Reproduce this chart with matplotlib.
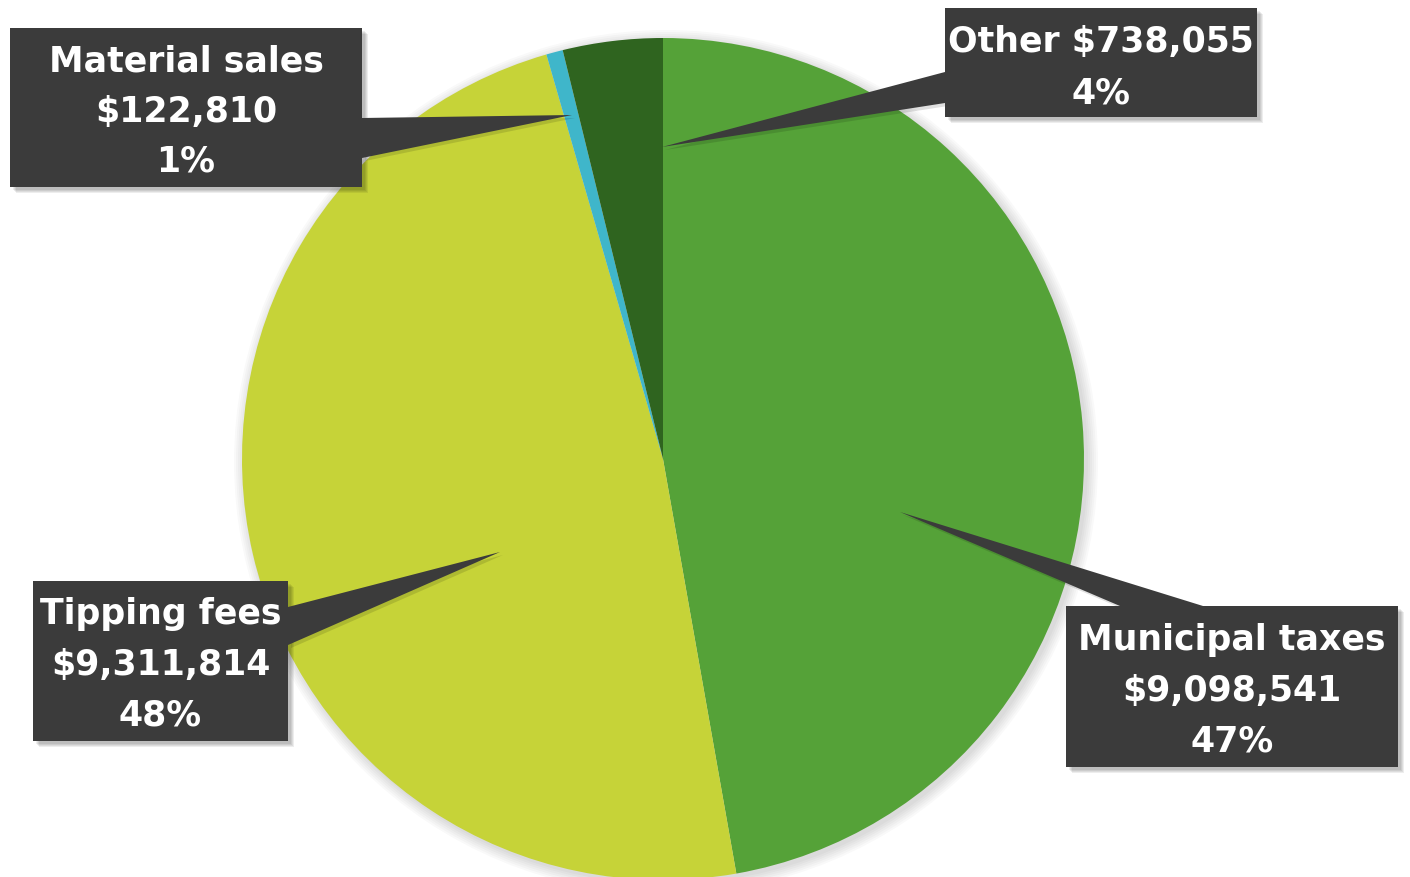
import matplotlib
matplotlib.use('Agg')
import matplotlib.pyplot as plt
from matplotlib.patches import Rectangle, Polygon, Circle

# data
labels = ['Municipal taxes', 'Tipping fees', 'Material sales', 'Other']
values = [9098541, 9311814, 122810, 738055]
percents = ['47%', '48%', '1%', '4%']
colors = ['#55A238', '#C6D338', '#3FB6CA', '#2F641F']

W, H = 1410, 877
BOX = '#3B3B3B'

fig = plt.figure(figsize=(W / 100, H / 100), dpi=100)
ax = fig.add_axes([0, 0, 1, 1])
ax.set_xlim(0, W)
ax.set_ylim(0, H)
ax.axis('off')

def Y(y):
    # pixel rows from the top -> data y
    return H - y

cx, cy, r = 663, Y(459), 421

# soft shadow under the pie
for k in range(6):
    ax.add_patch(Circle((cx + 3, cy - 3), r + 1 + k * 2,
                        color='#000000', alpha=0.025, lw=0, zorder=1))

ax.pie(values, colors=colors, startangle=90, counterclock=False,
       center=(cx, cy), radius=r, frame=True,
       wedgeprops=dict(linewidth=0, zorder=2))
ax.set_xlim(0, W)
ax.set_ylim(0, H)
ax.set_aspect('equal')
ax.axis('off')

# callout boxes: (x0, y0 top, x1, y1 bottom), pointer tip, pointer base, text lines
callouts = [
    dict(box=(10, 28, 362, 187), tip=(572, 115), base=[(362, 118), (362, 158)],
         lines=['Material sales', '$122,810', '1%'], ty=[60, 110, 160]),
    dict(box=(945, 8, 1257, 117), tip=(662, 147), base=[(945, 72), (945, 103)],
         lines=['Other $738,055', '4%'], ty=[40, 92]),
    dict(box=(33, 581, 288, 741), tip=(500, 552), base=[(288, 607), (288, 645)],
         lines=['Tipping fees', '$9,311,814', '48%'], ty=[612, 663, 714]),
    dict(box=(1066, 606, 1398, 767), tip=(900, 512), base=[(1120, 606), (1203, 606)],
         lines=['Municipal taxes', '$9,098,541', '47%'], ty=[638, 689, 740]),
]

for c in callouts:
    x0, y0, x1, y1 = c['box']
    # drop shadow
    for k in range(4):
        ax.add_patch(Rectangle((x0 + 3 + k, Y(y1) - 3 - k), x1 - x0, y1 - y0,
                               color='#000000', alpha=0.07, lw=0, zorder=3))
    pts = [c['tip']] + c['base']
    ax.add_patch(Polygon([(px + 3, Y(py) - 3) for px, py in pts], closed=True,
                         color='#000000', alpha=0.12, lw=0, zorder=3))
    ax.add_patch(Polygon([(px, Y(py)) for px, py in pts], closed=True,
                         color=BOX, lw=0, zorder=4))
    ax.add_patch(Rectangle((x0, Y(y1)), x1 - x0, y1 - y0, color=BOX, lw=0, zorder=4))
    xm = (x0 + x1) / 2
    for line, ty in zip(c['lines'], c['ty']):
        ax.text(xm, Y(ty + 2), line, ha='center', va='center', color='white',
                fontsize=25, fontweight='bold', family='DejaVu Sans', zorder=5)

fig.savefig('out.png', dpi=100)
